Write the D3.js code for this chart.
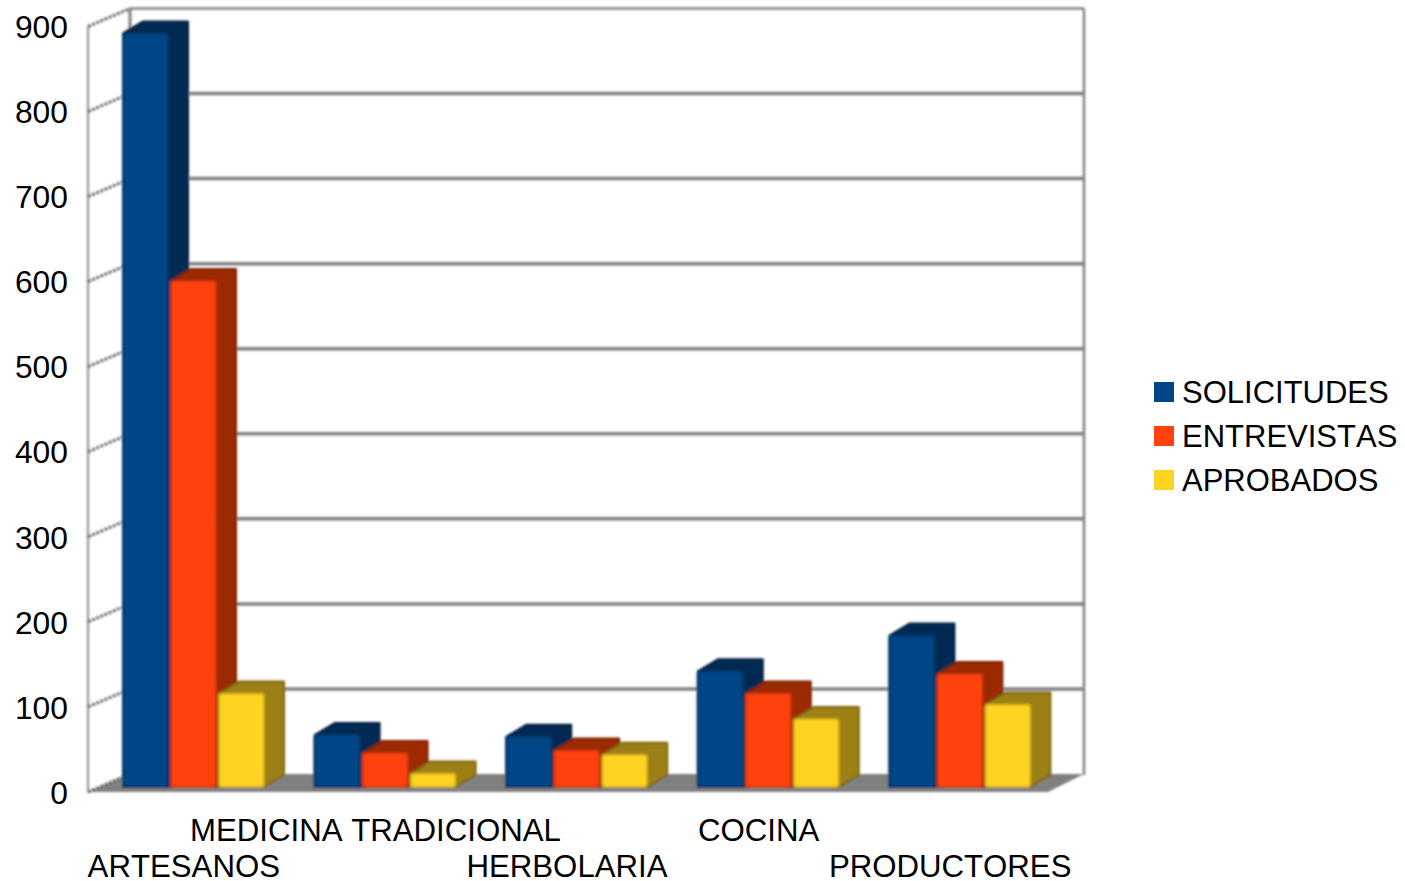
<!DOCTYPE html>
<html>
<head>
<meta charset="utf-8">
<script src="https://cdn.jsdelivr.net/npm/d3@7"></script>
<style>
html, body { margin: 0; padding: 0; background: #fff; overflow: hidden; }
text { font-family: "Liberation Sans", Arial, sans-serif; fill: #000; font-kerning: none; }
</style>
</head>
<body>
<div id="chart"></div>
<script>
const categories = ["ARTESANOS", "MEDICINA TRADICIONAL", "HERBOLARIA", "COCINA", "PRODUCTORES"];
const seriesNames = ["SOLICITUDES", "ENTREVISTAS", "APROBADOS"];
const solicitudes = [886, 61, 59, 136, 178];
const entrevistas = [595, 40, 43, 110, 133];
const aprobados = [110, 16, 38, 80, 97];
const tickValues = [0, 100, 200, 300, 400, 500, 600, 700, 800, 900];

const width = 1405;
const height = 881;
const front = { left: 88, right: 1046, bottom: 792, top: 26.5 };
const wallDx = 42, wallDy = 18;       // offset of the back wall from the front plane
const barDx = 20, barDy = 12;         // depth of each bar
const barInset = 5;                   // bars sit a little behind the front plane
const fontSize = 31.2;

const faceColors = ["#004586", "#ff420e", "#ffd320"];
const sideColors = ["#002a52", "#9c2b06", "#9c8013"];
const grey = "#808080";

const svg = d3.select("#chart")
    .append("svg")
    .attr("width", width)
    .attr("height", height);

// slight softness, the source picture is a scaled up bitmap
const defs = svg.append("defs");
defs.append("filter").attr("id", "soft")
    .append("feGaussianBlur").attr("stdDeviation", 0.8);

const xScale = d3.scaleBand()
    .domain(categories)
    .range([front.left, front.right]);

const seriesScale = d3.scaleBand()
    .domain(seriesNames)
    .range([35, 176])
    .paddingInner(0.0625);

const yScale = d3.scaleLinear()
    .domain([0, 900])
    .range([front.bottom, front.top]);

const soft = svg.append("g").attr("filter", "url(#soft)");

// Floor
const backRight = 1084;
soft.append("polygon")
    .attr("points", [
        [front.left, front.bottom],
        [front.left + wallDx, front.bottom - wallDy],
        [backRight, front.bottom - wallDy],
        [front.right + 2, front.bottom]
    ].join(" "))
    .attr("fill", grey);

// Back wall grid
soft.selectAll("line.grid")
    .data(tickValues.slice(1, -1))
    .enter()
    .append("line")
    .attr("class", "grid")
    .attr("x1", front.left + wallDx)
    .attr("x2", backRight)
    .attr("y1", d => yScale(d) - wallDy)
    .attr("y2", d => yScale(d) - wallDy)
    .attr("stroke", grey)
    .attr("stroke-width", 3.5);

// Top of the back wall, thinner than the grid
soft.append("line")
    .attr("x1", front.left + wallDx)
    .attr("x2", backRight)
    .attr("y1", yScale(900) - wallDy)
    .attr("y2", yScale(900) - wallDy)
    .attr("stroke", grey)
    .attr("stroke-width", 2.5);

// Wall edges
soft.append("line")
    .attr("x1", front.left)
    .attr("x2", front.left)
    .attr("y1", front.bottom)
    .attr("y2", yScale(900))
    .attr("stroke", "#a0a0a0")
    .attr("stroke-width", 2.5);

soft.append("line")
    .attr("x1", front.left + wallDx)
    .attr("x2", front.left + wallDx)
    .attr("y1", front.bottom - wallDy)
    .attr("y2", yScale(900) - wallDy)
    .attr("stroke", grey)
    .attr("stroke-width", 3);

soft.append("line")
    .attr("x1", backRight)
    .attr("x2", backRight)
    .attr("y1", front.bottom - wallDy + 1)
    .attr("y2", yScale(900) - wallDy)
    .attr("stroke", grey)
    .attr("stroke-width", 2.5);

// Diagonal ticks on the side wall
soft.selectAll("line.tick-diag")
    .data(tickValues)
    .enter()
    .append("line")
    .attr("class", "tick-diag")
    .attr("x1", front.left)
    .attr("x2", front.left + wallDx)
    .attr("y1", d => yScale(d))
    .attr("y2", d => yScale(d) - wallDy)
    .attr("stroke", "#6a6a6a")
    .attr("stroke-width", 3)
    .attr("stroke-dasharray", "3 1.5");

// Bars
const values = [solicitudes, entrevistas, aprobados];
categories.forEach((cat, c) => {
    const group = soft.append("g");
    seriesNames.forEach((name, s) => {
        const x0 = xScale(cat) + seriesScale(name);
        const x1 = x0 + seriesScale.bandwidth();
        const yTop = yScale(values[s][c]) - barInset;
        const yBase = yScale(0) - barInset;
        const bar = group.append("g")
            .attr("stroke-width", 2)
            .attr("stroke-linejoin", "round");
        // top and side share one colour, so one outline is enough
        bar.append("polygon")
            .attr("points", [
                [x0, yTop],
                [x0 + barDx, yTop - barDy],
                [x1 + barDx, yTop - barDy],
                [x1 + barDx, yBase - barDy],
                [x1, yBase],
                [x0, yBase]
            ].join(" "))
            .attr("fill", sideColors[s])
            .attr("stroke", d3.color(sideColors[s]).darker(0.6));
        bar.append("rect")
            .attr("x", x0)
            .attr("y", yTop)
            .attr("width", x1 - x0)
            .attr("height", yBase - yTop)
            .attr("rx", 3)
            .attr("fill", faceColors[s])
            .attr("stroke", d3.color(faceColors[s]).darker(0.6));
    });
});

// Y axis labels
const yAxis = d3.axisLeft(yScale)
    .tickValues(tickValues)
    .tickSize(0)
    .tickPadding(20);

svg.append("g")
    .attr("transform", `translate(${front.left},1)`)
    .call(yAxis)
    .call(g => g.select(".domain").remove())
    .selectAll("text")
    .style("font-size", "31.8px");

// Category labels, staggered on two rows
svg.selectAll("text.cat")
    .data(categories)
    .enter()
    .append("text")
    .attr("class", "cat")
    .attr("x", d => xScale(d) + xScale.bandwidth() / 2)
    .attr("y", (d, i) => i % 2 === 0 ? 876.5 : 840.5)
    .attr("text-anchor", "middle")
    .style("font-size", fontSize + "px")
    .text(d => d);

// Legend
const legendY = d3.scalePoint()
    .domain(seriesNames)
    .range([392, 480]);

const legend = svg.selectAll("g.legend")
    .data(seriesNames)
    .enter()
    .append("g")
    .attr("class", "legend")
    .attr("transform", d => `translate(1154,${legendY(d)})`);

legend.append("rect")
    .attr("y", -10)
    .attr("width", 20)
    .attr("height", 20)
    .attr("fill", (d, i) => faceColors[i]);

legend.append("text")
    .attr("x", 28)
    .attr("dy", "0.35em")
    .style("font-size", "31px")
    .text(d => d);
</script>
</body>
</html>
